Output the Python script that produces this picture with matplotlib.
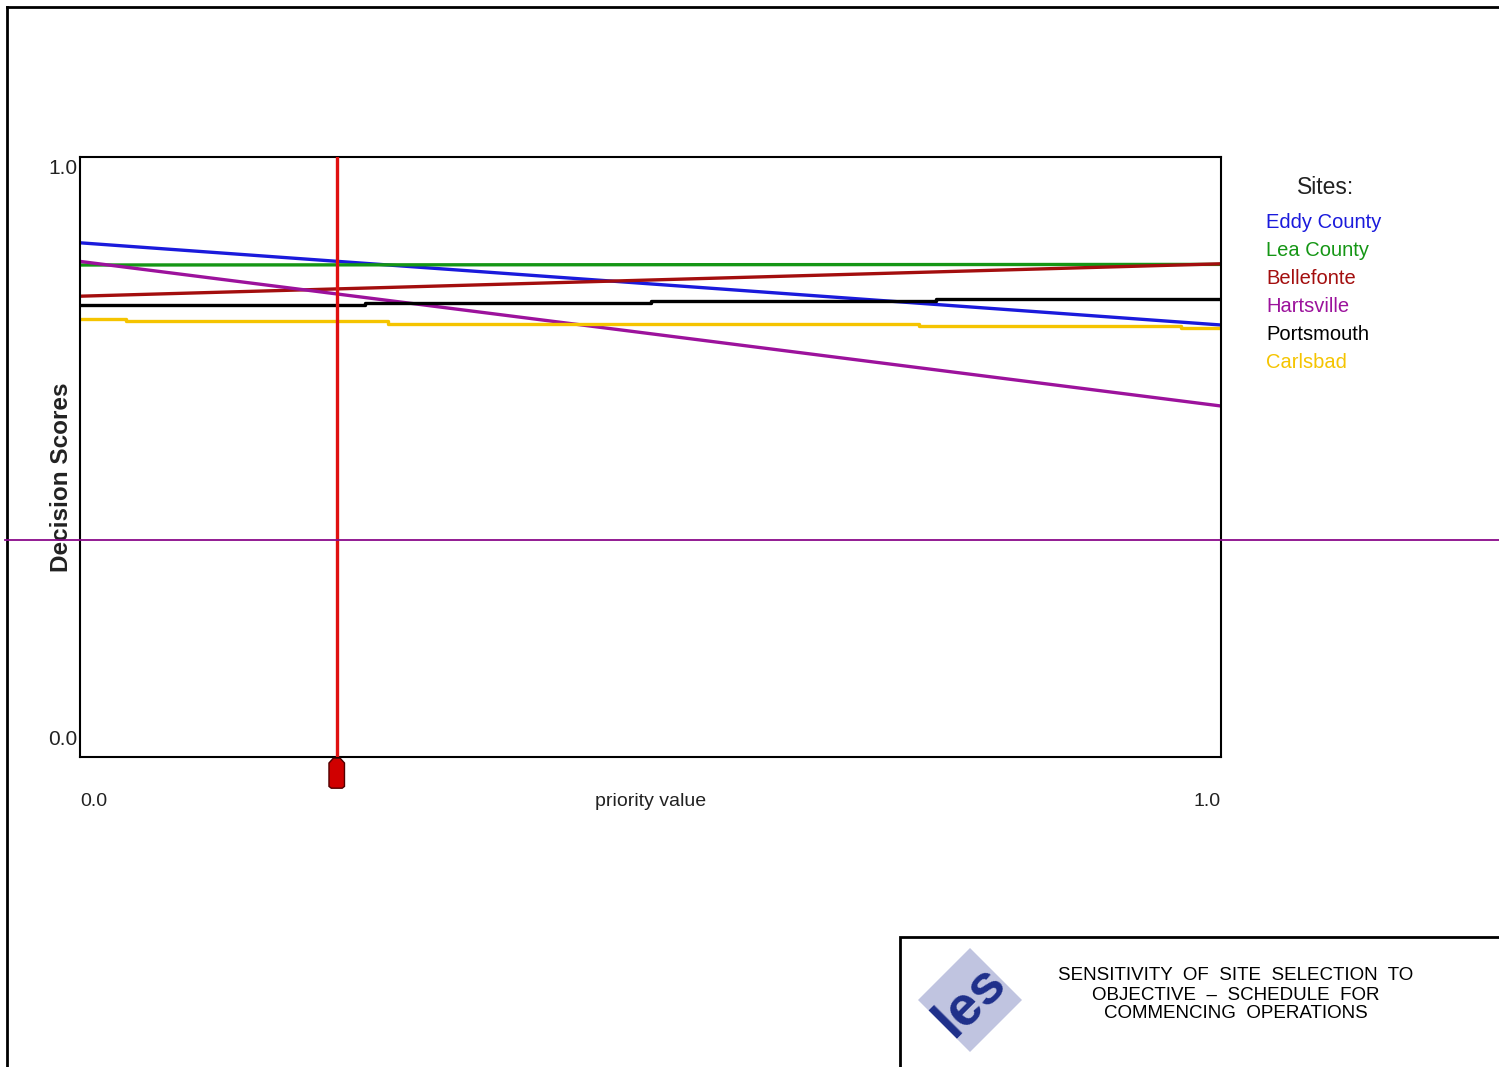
import matplotlib.pyplot as plt
from matplotlib.patches import Polygon, Rectangle
from matplotlib.lines import Line2D

plt.rcParams["font.family"] = ["Liberation Sans", "DejaVu Sans"]

# ---- data ----
sites = ["Eddy County", "Lea County", "Bellefonte", "Hartsville", "Portsmouth", "Carlsbad"]
colors = ["#1a1adc", "#159615", "#a30e0e", "#9c129c", "#000000", "#f5c400"]

eddy_x = [0.0, 1.0]
eddy_y = [0.857, 0.720]
lea_x = [0.0, 1.0]
lea_y = [0.820, 0.821]
belle_x = [0.0, 1.0]
belle_y = [0.768, 0.822]
harts_x = [0.0, 1.0]
harts_y = [0.826, 0.585]
ports_x = [0.0, 0.25, 0.5, 0.75, 1.0]
ports_y = [0.753, 0.757, 0.760, 0.763, 0.763]
carls_x = [0.0, 0.04, 0.27, 0.735, 0.965, 1.0]
carls_y = [0.730, 0.726, 0.722, 0.718, 0.715, 0.715]

series_x = [eddy_x, lea_x, belle_x, harts_x, ports_x, carls_x]
series_y = [eddy_y, lea_y, belle_y, harts_y, ports_y, carls_y]

priority = 0.225

title_lines = ["SENSITIVITY  OF  SITE  SELECTION  TO",
               "OBJECTIVE  \u2013  SCHEDULE  FOR",
               "COMMENCING  OPERATIONS"]

W, H = 1499, 1067
fig = plt.figure(figsize=(W / 100, H / 100), dpi=100)
fig.patch.set_facecolor("white")

ax = fig.add_axes([80 / W, 1 - 757 / H, (1221 - 80) / W, (757 - 157) / H])
ax.set_xlim(0, 1)
ax.set_ylim(0, 1)
ax.set_xticks([])
ax.set_yticks([])
for sp in ax.spines.values():
    sp.set_linewidth(1.5)

for xs, ys, c in zip(series_x, series_y, colors):
    ax.plot(xs, ys, color=c, lw=2.4, drawstyle="steps-post" if len(xs) > 2 else "default",
            solid_capstyle="butt")

ax.axvline(priority, color="#e01010", lw=2.4, zorder=5)

# slider handle under the axis
hx, hw = priority, 0.0068
handle = Polygon([(hx - hw, -0.010), (hx - 0.003, -0.002), (hx + 0.003, -0.002), (hx + hw, -0.010),
                  (hx + hw, -0.049), (hx + hw - 0.002, -0.052),
                  (hx - hw + 0.002, -0.052), (hx - hw, -0.049)],
                 closed=True, facecolor="#d00000", edgecolor="#500000", lw=1,
                 transform=ax.transData, clip_on=False, zorder=6)
ax.add_patch(handle)

fs = 15
ax.text(-0.002, 0.981, "1.0", ha="right", va="center", fontsize=fs, color="#222222")
ax.text(-0.002, 0.029, "0.0", ha="right", va="center", fontsize=fs, color="#222222")
ax.text(0.0, -0.075, "0.0", ha="left", va="center", fontsize=14, color="#222222")
ax.text(0.5, -0.075, "priority value", ha="center", va="center", fontsize=14, color="#222222")
ax.text(1.0, -0.075, "1.0", ha="right", va="center", fontsize=14, color="#222222")
ax.text(-0.016, 0.467, "Decision Scores", rotation=90, ha="center", va="center",
        fontsize=17.5, fontweight="bold", color="#222222")

# legend as plain text
fig.text(1326 / W, 1 - 187 / H, "Sites:", ha="center", va="center", fontsize=16.5, color="#222222")
for i, (s, c) in enumerate(zip(sites, colors)):
    fig.text(1266 / W, 1 - (222 + 28 * i) / H, s, ha="left", va="center", fontsize=14.5, color=c)

# page frame and stray purple line
fig.add_artist(Line2D([7 / W, 7 / W], [0, 1 - 7 / H], color="black", lw=2, transform=fig.transFigure))
fig.add_artist(Line2D([7 / W, 1], [1 - 7 / H, 1 - 7 / H], color="black", lw=2, transform=fig.transFigure))
fig.add_artist(Line2D([5 / W, 1], [1 - 540 / H, 1 - 540 / H], color="#8a0a8a", lw=1.3,
                      transform=fig.transFigure, zorder=10))

# title block
fig.add_artist(Rectangle((900 / W, -0.01), (W - 900 + 10) / W, (1067 - 937) / H + 0.01,
                         facecolor="white", edgecolor="black", lw=2, transform=fig.transFigure))
for i, line in enumerate(title_lines):
    fig.text(1236 / W, 1 - (976 + 19 * i) / H, line, ha="center", va="center",
             fontsize=13.5, color="black")

# logo: diamond with letters
cx, cy, r = 970, 1000, 52
diamond = Polygon([(cx / W, 1 - (cy - r) / H), ((cx + r) / W, 1 - cy / H),
                   (cx / W, 1 - (cy + r) / H), ((cx - r) / W, 1 - cy / H)],
                  closed=True, facecolor="#c0c4e0", edgecolor="none", transform=fig.transFigure)
fig.add_artist(diamond)
fig.text(cx / W, 1 - (cy + 2) / H, "les", rotation=45, ha="center", va="center",
         fontsize=40, color="#1e2f8a", fontweight="bold")

fig.savefig("out.png", dpi=100)
